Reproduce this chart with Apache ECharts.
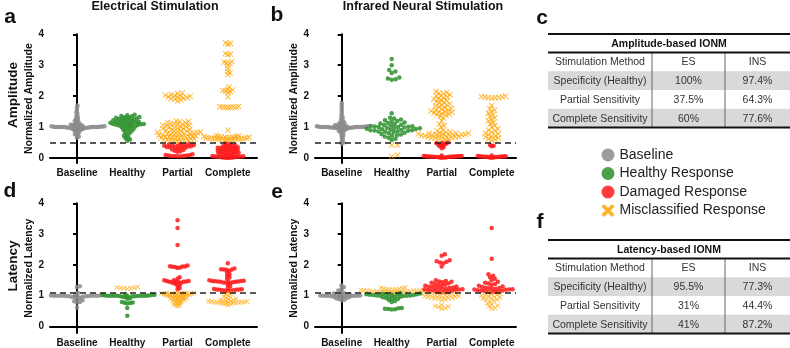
<!DOCTYPE html>
<html>
<head>
<meta charset="utf-8">
<script src="https://cdn.jsdelivr.net/npm/echarts@6.0.0/dist/echarts.min.js"></script>
<style>
  html, body { margin: 0; padding: 0; background: #fff; }
  #chart { width: 790px; height: 348px; }
</style>
</head>
<body>
<div id="chart"></div>
<script>
  // ---- data ----
  var categories = ["Baseline", "Healthy", "Partial", "Complete"];
  var ampThreshold = 0.5;
  var latThreshold = 1.1;
  var yTicks = [0, 1, 2, 3, 4];

  // a: electrical stimulation, normalized amplitude
  var aBase = [1.7, 1.63, 1.55, 1.48, 1.42, 1.36, 1.31, 1.27, 1.23, 1.2, 1.17, 1.14, 1.12, 1.1, 1.08, 1.07, 1.06, 1.05, 1.04, 1.03, 1.03, 1.02, 1.02, 1.01, 1.01, 1.01, 1.0, 1.0, 1.0, 1.0, 1.0, 1.0, 1.0, 1.0, 1.0, 1.0, 0.99, 0.99, 0.99, 0.98, 0.98, 0.97, 0.97, 0.96, 0.95, 0.94, 0.93, 0.92, 0.9, 0.88, 0.86, 0.83, 0.8, 0.77, 0.74, 0.7, 0.66];
  var aHealthy = [1.4, 1.38, 1.36, 1.35, 1.33, 1.32, 1.3, 1.3, 1.28, 1.27, 1.26, 1.25, 1.24, 1.22, 1.21, 1.2, 1.19, 1.18, 1.17, 1.16, 1.15, 1.14, 1.13, 1.12, 1.12, 1.11, 1.1, 1.1, 1.09, 1.08, 1.07, 1.06, 1.05, 1.04, 1.03, 1.02, 1.0, 0.98, 0.96, 0.94, 0.92, 0.9, 0.87, 0.84, 0.8, 0.76, 0.72, 0.68, 0.64, 0.6, 0.56];
  var aPartialMis = [2.1, 2.08, 2.05, 2.03, 2.02, 2.0, 2.0, 1.98, 1.97, 1.95, 1.94, 1.92, 1.9, 1.88, 1.85, 1.2, 1.18, 1.17, 1.15, 1.14, 1.12, 1.1, 1.1, 1.08, 1.06, 1.05, 1.04, 1.02, 1.0, 1.0, 0.98, 0.97, 0.95, 0.94, 0.92, 0.9, 0.9, 0.88, 0.87, 0.86, 0.85, 0.84, 0.83, 0.82, 0.81, 0.8, 0.8, 0.79, 0.78, 0.77, 0.76, 0.75, 0.74, 0.73, 0.72, 0.71, 0.7, 0.7, 0.69, 0.68, 0.67, 0.66, 0.65, 0.64, 0.63, 0.62, 0.61, 0.6, 0.59, 0.58, 0.57, 0.56, 0.55, 0.54, 0.53];
  var aPartialDmg = [0.46, 0.45, 0.44, 0.43, 0.42, 0.41, 0.4, 0.4, 0.39, 0.38, 0.37, 0.36, 0.35, 0.34, 0.33, 0.32, 0.3, 0.28, 0.26, 0.24, 0.22, 0.2, 0.12, 0.1, 0.09, 0.08, 0.08, 0.07, 0.07, 0.07, 0.06, 0.06];
  var aCompleteMis = [3.72, 3.7, 3.68, 3.38, 3.36, 3.34, 3.12, 3.1, 3.08, 3.06, 3.0, 2.9, 2.8, 2.75, 2.7, 2.3, 2.22, 2.2, 2.18, 2.17, 2.15, 2.12, 1.98, 1.67, 1.66, 1.65, 1.65, 1.65, 1.64, 1.64, 1.63, 0.9, 0.72, 0.71, 0.7, 0.7, 0.69, 0.68, 0.68, 0.67, 0.67, 0.66, 0.66, 0.65, 0.65, 0.65, 0.64, 0.64, 0.63, 0.63, 0.62, 0.62, 0.61, 0.6, 0.6, 0.59, 0.58, 0.57, 0.56];
  var aCompleteDmg = [0.47, 0.45, 0.43, 0.41, 0.4, 0.38, 0.37, 0.36, 0.35, 0.34, 0.33, 0.32, 0.31, 0.3, 0.29, 0.28, 0.27, 0.26, 0.25, 0.24, 0.23, 0.22, 0.21, 0.2, 0.19, 0.18, 0.17, 0.16, 0.15, 0.14, 0.13, 0.12, 0.11, 0.1, 0.09, 0.08, 0.07, 0.06, 0.05, 0.05, 0.04, 0.04, 0.03, 0.03, 0.02, 0.02, 0.01, 0.01, 0.0];

  // b: infrared neural stimulation, normalized amplitude
  var bBase = [1.78, 1.7, 1.62, 1.54, 1.46, 1.39, 1.33, 1.28, 1.23, 1.19, 1.16, 1.13, 1.11, 1.09, 1.07, 1.06, 1.05, 1.04, 1.03, 1.03, 1.02, 1.02, 1.01, 1.01, 1.01, 1.0, 1.0, 1.0, 1.0, 1.0, 1.0, 1.0, 1.0, 1.0, 1.0, 0.99, 0.99, 0.99, 0.98, 0.98, 0.97, 0.97, 0.96, 0.95, 0.94, 0.93, 0.91, 0.89, 0.87, 0.84, 0.81, 0.77, 0.73, 0.68, 0.62, 0.56, 0.5, 0.46];
  var bHealthy = [3.2, 3.0, 2.85, 2.8, 2.75, 2.6, 2.57, 2.55, 2.53, 1.45, 1.3, 1.28, 1.25, 1.22, 1.2, 1.18, 1.15, 1.13, 1.12, 1.1, 1.08, 1.07, 1.05, 1.04, 1.03, 1.02, 1.01, 1.0, 1.0, 0.99, 0.98, 0.97, 0.96, 0.95, 0.94, 0.93, 0.92, 0.91, 0.9, 0.9, 0.89, 0.88, 0.87, 0.86, 0.85, 0.84, 0.82, 0.8, 0.78, 0.76, 0.74, 0.72, 0.7, 0.66, 0.62, 0.58];
  var bHealthyMis = [0.42, 0.42, 0.1, 0.05];
  var bPartialMis = [2.15, 2.12, 2.1, 2.08, 2.05, 2.02, 2.0, 1.97, 1.95, 1.92, 1.9, 1.88, 1.85, 1.82, 1.8, 1.78, 1.75, 1.72, 1.7, 1.68, 1.65, 1.62, 1.6, 1.58, 1.56, 1.55, 1.52, 1.5, 1.5, 1.48, 1.46, 1.45, 1.42, 1.4, 1.38, 1.35, 1.3, 1.2, 1.1, 1.05, 1.0, 0.9, 0.88, 0.85, 0.84, 0.82, 0.8, 0.8, 0.79, 0.78, 0.78, 0.77, 0.76, 0.76, 0.75, 0.75, 0.74, 0.73, 0.72, 0.71, 0.7, 0.7, 0.69, 0.68, 0.67, 0.66, 0.65, 0.64, 0.62, 0.6, 0.58, 0.56];
  var bPartialDmg = [0.5, 0.49, 0.48, 0.47, 0.46, 0.45, 0.44, 0.42, 0.4, 0.38, 0.35, 0.32, 0.08, 0.07, 0.07, 0.06, 0.06, 0.06, 0.05, 0.05, 0.05, 0.05, 0.04, 0.04, 0.04, 0.04, 0.03, 0.03, 0.03, 0.02, 0.02, 0.02, 0.01];
  var bCompleteMis = [2.0, 1.99, 1.98, 1.97, 1.96, 1.95, 1.95, 1.94, 1.7, 1.6, 1.55, 1.5, 1.45, 1.4, 1.35, 1.3, 1.25, 1.2, 1.15, 1.1, 1.05, 1.0, 0.95, 0.9, 0.88, 0.85, 0.8, 0.78, 0.75, 0.72, 0.7, 0.68, 0.65, 0.62, 0.6, 0.58];
  var bCompleteDmg = [0.42, 0.4, 0.38, 0.08, 0.07, 0.06, 0.06, 0.05, 0.05, 0.05, 0.04, 0.04, 0.04, 0.03, 0.03, 0.03, 0.02, 0.02, 0.01];

  // d: electrical stimulation, normalized latency
  var dBase = [1.31, 1.28, 1.1, 1.05, 1.03, 1.02, 1.01, 1.01, 1.0, 1.0, 1.0, 1.0, 1.0, 1.0, 1.0, 0.99, 0.99, 0.99, 0.98, 0.98, 0.97, 0.96, 0.95, 0.92, 0.88, 0.85, 0.82, 0.8, 0.78, 0.62];
  var dHealthy = [1.05, 1.03, 1.02, 1.02, 1.01, 1.01, 1.0, 1.0, 1.0, 1.0, 1.0, 1.0, 1.0, 0.99, 0.99, 0.99, 0.98, 0.98, 0.97, 0.95, 0.92, 0.9, 0.8, 0.78, 0.77, 0.76, 0.75, 0.6, 0.35];
  var dHealthyMis = [1.28, 1.27, 1.26, 1.25, 1.25, 1.24, 1.23];
  var dPartialDmg = [3.45, 3.2, 2.65, 1.98, 1.96, 1.95, 1.95, 1.94, 1.93, 1.92, 1.9, 1.6, 1.55, 1.5, 1.5, 1.48, 1.48, 1.47, 1.46, 1.45, 1.45, 1.44, 1.43, 1.42, 1.4, 1.38, 1.35, 1.3, 1.25, 1.2];
  var dPartialMis = [1.1, 1.1, 1.09, 1.09, 1.08, 1.08, 1.07, 1.07, 1.06, 1.06, 1.05, 1.05, 1.04, 1.04, 1.03, 1.03, 1.02, 1.02, 1.01, 1.0, 1.0, 0.99, 0.98, 0.97, 0.96, 0.95, 0.94, 0.93, 0.92, 0.91, 0.9, 0.89, 0.88, 0.87, 0.86, 0.85, 0.84, 0.82, 0.8, 0.78, 0.76, 0.74, 0.72, 0.7, 0.68, 0.66];
  var dCompleteDmg = [2.05, 1.88, 1.86, 1.85, 1.85, 1.84, 1.8, 1.75, 1.7, 1.65, 1.6, 1.55, 1.5, 1.49, 1.48, 1.48, 1.47, 1.47, 1.46, 1.46, 1.45, 1.45, 1.44, 1.43, 1.42, 1.4, 1.35, 1.3, 1.25, 1.22, 1.21, 1.2, 1.2, 1.19, 1.19, 1.18, 1.18, 1.17, 1.16, 1.15];
  var dCompleteMis = [1.1, 1.08, 1.05, 1.0, 0.98, 0.95, 0.93, 0.9, 0.88, 0.86, 0.85, 0.84, 0.83, 0.82, 0.82, 0.81, 0.81, 0.8, 0.8, 0.79, 0.79, 0.78, 0.78, 0.77, 0.77, 0.76, 0.75, 0.74, 0.72, 0.7];

  // e: infrared neural stimulation, normalized latency
  var eBase = [1.33, 1.28, 1.22, 1.17, 1.13, 1.1, 1.07, 1.05, 1.04, 1.03, 1.02, 1.01, 1.01, 1.0, 1.0, 1.0, 1.0, 1.0, 0.99, 0.99, 0.98, 0.98, 0.97, 0.96, 0.95, 0.93, 0.91, 0.89, 0.87, 0.85];
  var eHealthyMis = [1.27, 1.25, 1.24, 1.23, 1.22, 1.21, 1.2, 1.2, 1.19, 1.18, 1.18, 1.17, 1.17, 1.16, 1.16, 1.15, 1.15, 1.15, 1.14, 1.14, 1.13, 1.13, 1.12, 1.12, 1.12, 1.11, 1.11, 1.11, 1.1, 1.1, 1.1];
  var eHealthy = [1.08, 1.07, 1.06, 1.05, 1.05, 1.04, 1.04, 1.03, 1.03, 1.02, 1.02, 1.01, 1.01, 1.0, 1.0, 0.99, 0.98, 0.97, 0.96, 0.95, 0.93, 0.91, 0.89, 0.86, 0.83, 0.8, 0.6, 0.59, 0.58, 0.57, 0.56, 0.55];
  var ePartialDmg = [2.35, 2.3, 2.15, 2.12, 2.1, 2.08, 2.05, 1.95, 1.5, 1.48, 1.46, 1.45, 1.44, 1.42, 1.4, 1.38, 1.36, 1.35, 1.33, 1.32, 1.3, 1.29, 1.28, 1.27, 1.26, 1.25, 1.24, 1.23, 1.22, 1.21, 1.2, 1.2, 1.19, 1.18, 1.17, 1.16, 1.15, 1.14, 1.13, 1.12, 1.11];
  var ePartialMis = [1.09, 1.08, 1.07, 1.06, 1.05, 1.04, 1.03, 1.02, 1.01, 1.0, 0.99, 0.98, 0.97, 0.96, 0.95, 0.94, 0.93, 0.92, 0.91, 0.9, 0.88, 0.86, 0.7, 0.67, 0.65, 0.63, 0.6, 0.58];
  var eCompleteDmg = [3.2, 2.2, 1.7, 1.65, 1.6, 1.55, 1.5, 1.45, 1.42, 1.4, 1.38, 1.35, 1.32, 1.3, 1.28, 1.26, 1.25, 1.24, 1.23, 1.22, 1.21, 1.2, 1.2, 1.19, 1.18, 1.17, 1.16, 1.15, 1.14, 1.13, 1.12, 1.11];
  var eCompleteMis = [1.09, 1.07, 1.05, 1.03, 1.01, 1.0, 0.98, 0.96, 0.94, 0.92, 0.9, 0.88, 0.86, 0.84, 0.8, 0.75, 0.7, 0.68, 0.65, 0.6, 0.58];

  // tables c and f
  var tableHeader = ["Stimulation Method", "ES", "INS"];
  var tableRows = ["Specificity (Healthy)", "Partial Sensitivity", "Complete Sensitivity"];
  var ampES = ["100%", "37.5%", "60%"];
  var ampINS = ["97.4%", "64.3%", "77.6%"];
  var latES = ["95.5%", "31%", "41%"];
  var latINS = ["77.3%", "44.4%", "87.2%"];

  // ---- styling ----
  var FONT = 'Arial, "Liberation Sans", Helvetica, sans-serif';
  var X_PATH = "path://M0,1L1,0L5,4L9,0L10,1L6,5L10,9L9,10L5,6L1,10L0,9L4,5Z";
  var X_ICON = "path://M0,2L2,0L5,3L8,0L10,2L7,5L10,8L8,10L5,7L2,10L0,8L3,5Z";
  var kinds = {
    base: { name: "Baseline", color: "#8c8c8c", symbol: "circle" },
    healthy: { name: "Healthy Response", color: "#2b8f2b", symbol: "circle" },
    dmg: { name: "Damaged Response", color: "#ff1a1a", symbol: "circle" },
    mis: { name: "Misclassified Response", color: "#ffa500", symbol: X_PATH }
  };

  // grid boxes (pixels), axis extents; each group: [category, kind, values, swarm spacing px]
  var panels = [
    { left: 50, top: 34.3, width: 207, height: 128.7, xMin: -0.537, xMax: 3.58, yMin: -0.16, name: "Normalized Amplitude", thr: ampThreshold, xs: 6,
      groups: [[0, "base", aBase, 2.2], [1, "healthy", aHealthy, 3], [2, "mis", aPartialMis, 3.4], [2, "dmg", aPartialDmg, 3], [3, "mis", aCompleteMis, 2.7], [3, "dmg", aCompleteDmg, 2.6]] },
    { left: 315, top: 34.3, width: 201, height: 128.7, xMin: -0.534, xMax: 3.486, yMin: -0.16, name: "Normalized Amplitude", thr: ampThreshold, xs: 6,
      groups: [[0, "base", bBase, 2.2], [1, "healthy", bHealthy, 4], [1, "mis", bHealthyMis, 6], [2, "mis", bPartialMis, 3.5], [2, "dmg", bPartialDmg, 2], [3, "mis", bCompleteMis, 3.5], [3, "dmg", bCompleteDmg, 2]] },
    { left: 50, top: 203.3, width: 207, height: 130, xMin: -0.537, xMax: 3.58, yMin: -0.21, name: "Normalized Latency", thr: latThreshold, xs: 5,
      groups: [[0, "base", dBase, 3], [1, "healthy", dHealthy, 2.8], [1, "mis", dHealthyMis, 3.5], [2, "dmg", dPartialDmg, 2.6], [2, "mis", dPartialMis, 2.3], [3, "dmg", dCompleteDmg, 2.8], [3, "mis", dCompleteMis, 2.8]] },
    { left: 315, top: 203.3, width: 201, height: 130, xMin: -0.534, xMax: 3.486, yMin: -0.21, name: "Normalized Latency", thr: latThreshold, xs: 5,
      groups: [[0, "base", eBase, 2.8], [1, "mis", eHealthyMis, 3.1], [1, "healthy", eHealthy, 3.4], [2, "dmg", ePartialDmg, 3.5], [2, "mis", ePartialMis, 3.5], [3, "dmg", eCompleteDmg, 3.5], [3, "mis", eCompleteMis, 3.5]] }
  ];

  // beeswarm layout: spread points sideways (in pixels) so they don't overlap
  function swarm(vals, pxY, d) {
    var placed = [];
    return vals.slice().sort(function (a, b) { return a - b; }).map(function (v) {
      var y = v * pxY;
      var near = placed.filter(function (p) { return Math.abs(p.y - y) < d; });
      var cands = [0];
      near.forEach(function (p) {
        var dx = Math.sqrt(d * d - (p.y - y) * (p.y - y));
        cands.push(p.x + dx + 0.01, p.x - dx - 0.01);
      });
      cands.sort(function (a, b) { return Math.abs(a) - Math.abs(b); });
      var x = cands.find(function (c) {
        return near.every(function (p) { return (p.x - c) * (p.x - c) + (p.y - y) * (p.y - y) >= d * d - 0.001; });
      });
      placed.push({ x: x, y: y });
      return [x, v];
    });
  }

  var grids = [], xAxes = [], yAxes = [], series = [];
  panels.forEach(function (p, gi) {
    var pxX = p.width / (p.xMax - p.xMin);
    var pxY = p.height / (4 - p.yMin);
    grids.push({ left: p.left, top: p.top, width: p.width, height: p.height });
    xAxes.push({
      type: "value", gridIndex: gi, min: p.xMin, max: p.xMax, splitLine: { show: false },
      axisLine: { lineStyle: { color: "#000", width: 2 } }, axisTick: { show: false },
      axisLabel: { customValues: [0, 1, 2, 3], margin: 5, color: "#111", fontFamily: FONT, fontWeight: "bold", fontSize: 10,
        formatter: function (v) { return categories[Math.round(v)]; } }
    });
    yAxes.push({
      type: "value", gridIndex: gi, min: p.yMin, max: 4, splitLine: { show: false },
      name: p.name, nameLocation: "middle", nameGap: 9,
      nameTextStyle: { color: "#111", fontFamily: FONT, fontWeight: "bold", fontSize: 10.5 },
      axisLine: { show: true, lineStyle: { color: "#000", width: 2 } },
      axisTick: { show: true, customValues: yTicks, length: 4, lineStyle: { width: 2, color: "#000" } },
      axisLabel: { customValues: yTicks, margin: 6, color: "#111", fontFamily: FONT, fontWeight: "bold", fontSize: 10 }
    });
    p.groups.forEach(function (g, k) {
      var kind = kinds[g[1]];
      var isX = g[1] === "mis";
      var pts = swarm(g[2], pxY, g[3]).map(function (q) {
        return [g[0] + q[0] / pxX, q[1]];
      });
      var s = {
        type: "scatter", name: kind.name, xAxisIndex: gi, yAxisIndex: gi, data: pts,
        symbol: kind.symbol, symbolSize: isX ? p.xs : 4.5, silent: true, animation: false,
        itemStyle: { color: kind.color, opacity: 0.85 }
      };
      if (k === 0) {
        s.markLine = {
          silent: true, symbol: "none", label: { show: false }, animation: false,
          lineStyle: { color: "#222", type: [6, 4], width: 1.5 },
          data: [{ yAxis: p.thr }]
        };
      }
      series.push(s);
    });
  });

  // texts and tables drawn as graphic elements
  function text(x, y, str, size, bold, extra) {
    var el = { type: "text", x: x, y: y, silent: true,
      style: { text: str, fill: "#111", font: (bold ? "bold " : "") + size + "px " + FONT, textAlign: "center", textVerticalAlign: "middle" } };
    if (extra) { for (var k in extra) el[k] = extra[k]; }
    return el;
  }

  function table(top, title, esVals, insVals) {
    var left = 548, right = 790, c1 = 652, c2 = 725, headH = 18.5, rowH = 18.75;
    var els = [];
    var yh = top + headH;
    [1, 3].forEach(function (r) {
      els.push({ type: "rect", silent: true, shape: { x: left, y: yh + r * rowH, width: right - left, height: rowH }, style: { fill: "#d9d9d9" } });
    });
    [c1, c2].forEach(function (cx) {
      els.push({ type: "line", silent: true, shape: { x1: cx, y1: yh, x2: cx, y2: yh + 4 * rowH }, style: { stroke: "#666", lineWidth: 1 } });
    });
    [top, yh, yh + 4 * rowH].forEach(function (ly) {
      els.push({ type: "line", silent: true, shape: { x1: left, y1: ly, x2: right, y2: ly }, style: { stroke: "#111", lineWidth: 2 } });
    });
    els.push(text((left + right) / 2, top + headH / 2 + 0.5, title, 10.5, true));
    var rows = [tableHeader].concat(tableRows.map(function (r, i) { return [r, esVals[i], insVals[i]]; }));
    var cx = [(left + c1) / 2, (c1 + c2) / 2, (c2 + right) / 2];
    rows.forEach(function (row, r) {
      row.forEach(function (cell, c) {
        var el = text(cx[c], yh + (r + 0.5) * rowH + 0.5, cell, 10.5, false);
        el.style.fill = "#333";
        els.push(el);
      });
    });
    return els;
  }

  var rot = { rotation: Math.PI / 2 };
  var graphics = [
    text(155, 7, "Electrical Stimulation", 12.5, true),
    text(423, 7, "Infrared Neural Stimulation", 12.5, true),
    text(10, 17, "a", 21, true), text(277, 15, "b", 21, true), text(542, 18, "c", 21, true),
    text(10, 191, "d", 21, true), text(277, 192, "e", 21, true), text(540, 222, "f", 21, true),
    text(13, 95, "Amplitude", 13.5, true, rot),
    text(13, 266, "Latency", 13.5, true, rot)
  ].concat(table(34, "Amplitude-based IONM", ampES, ampINS))
   .concat(table(240, "Latency-based IONM", latES, latINS));

  var chart = echarts.init(document.getElementById("chart"), null, { renderer: "canvas" });
  chart.setOption({
    animation: false,
    backgroundColor: "#fff",
    grid: grids,
    xAxis: xAxes,
    yAxis: yAxes,
    series: series,
    legend: {
      orient: "vertical", left: 596.5, top: 143, itemWidth: 13, itemHeight: 13, itemGap: 4.5,
      selectedMode: false, textStyle: { fontFamily: FONT, fontSize: 14, color: "#222", lineHeight: 14 },
      data: [
        { name: "Baseline", icon: "circle" },
        { name: "Healthy Response", icon: "circle" },
        { name: "Damaged Response", icon: "circle" },
        { name: "Misclassified Response", icon: X_ICON }
      ]
    },
    graphic: graphics
  });
</script>
</body>
</html>
